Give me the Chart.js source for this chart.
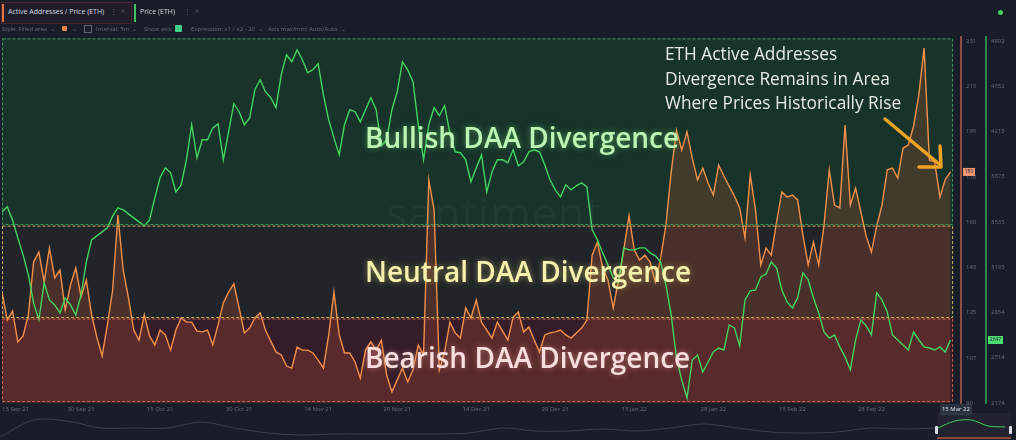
<!DOCTYPE html>
<html>
<head>
<meta charset="utf-8">
<script src="https://cdn.jsdelivr.net/npm/chart.js@4.4.1/dist/chart.umd.min.js"></script>
<style>
  html, body { margin: 0; padding: 0; background: #191d29; width: 1016px; height: 440px; overflow: hidden; font-family: "Open Sans", sans-serif; }
  #wrap { position: relative; width: 1016px; height: 440px; }
  canvas { position: absolute; left: 0; }
  #main { top: 0; }
  #nav { top: 412px; }
  .abs { position: absolute; white-space: nowrap; pointer-events: none; }
  .tab { position: absolute; top: 2px; height: 20px; font-size: 7px; color: #d5d9e3; line-height: 20px; }
  .tool { position: absolute; top: 24px; font-size: 6px; color: #646c80; line-height: 10px; white-space: nowrap; }
  .zone { position: absolute; left: 365px; font-size: 28px; font-weight: 600; line-height: 28px; white-space: nowrap; }
</style>
</head>
<body>
<div id="wrap">
  <canvas id="main" width="1016" height="440"></canvas>
  <canvas id="nav" width="1016" height="28"></canvas>

  <!-- tabs -->
  <div class="tab" style="left:1px;width:129px;border:1px solid #4a2530;background:#1e1d29;"></div>
  <div class="abs" style="left:2px;top:4px;width:2px;height:18px;background:#e8743c;"></div>
  <div class="tab" style="left:8px;">Active Addresses / Price (ETH)</div>
  <div class="tab" style="left:110px;color:#5d6478;">⋮</div>
  <div class="tab" style="left:121px;color:#5d6478;">×</div>
  <div class="abs" style="left:134px;top:4px;width:2px;height:18px;background:#3fc65c;"></div>
  <div class="tab" style="left:140px;">Price (ETH)</div>
  <div class="tab" style="left:184px;color:#5d6478;">⋮</div>
  <div class="tab" style="left:195px;color:#5d6478;">×</div>
  <div class="abs" style="left:998px;top:10px;width:5px;height:5px;border-radius:50%;background:#3fd35c;"></div>

  <!-- toolbar -->
  <div class="tool" style="left:2px;">Style: Filled area &nbsp;⌄</div>
  <div class="abs" style="left:62px;top:26px;width:5px;height:5px;background:#f0864a;border-radius:1px;"></div>
  <div class="tool" style="left:72px;">⌄</div>
  <div class="abs" style="left:84px;top:25px;width:6px;height:6px;border:1px solid #5d6478;"></div>
  <div class="tool" style="left:96px;">Interval: 5m &nbsp;⌄</div>
  <div class="tool" style="left:144px;">Show axis</div>
  <div class="abs" style="left:175px;top:25px;width:7px;height:7px;background:#3fcf8a;border-radius:1px;"></div>
  <div class="tool" style="left:191px;">Expression: x1 / x2 - 20 &nbsp;⌄</div>
  <div class="tool" style="left:268px;">Axis max/min: Auto/Auto &nbsp;⌄</div>

  <!-- watermark -->
  <div class="abs" style="left:386px;top:182px;font-size:44px;color:rgba(255,255,255,0.035);letter-spacing:1px;">santiment</div>

  <!-- zone captions -->
  <div class="zone" style="top:123px;color:#bdf5b4;text-shadow:0 0 6px rgba(110,220,110,0.55);">Bullish DAA Divergence</div>
  <div class="zone" style="top:257px;color:#f6f2ae;text-shadow:0 0 6px rgba(235,225,120,0.5);">Neutral DAA Divergence</div>
  <div class="zone" style="top:343px;color:#f9dede;text-shadow:0 0 6px rgba(255,170,170,0.5);">Bearish DAA Divergence</div>

  <!-- annotation -->
  <div class="abs" style="left:665px;top:42px;font-size:17.3px;line-height:24.5px;color:#e6ede4;">ETH Active Addresses<br>Divergence Remains in Area<br>Where Prices Historically Rise</div>
  <svg class="abs" style="left:0;top:0;" width="1016" height="440">
    <line x1="885" y1="119" x2="939" y2="164" stroke="#efa324" stroke-width="3.5" stroke-linecap="round"/>
    <polyline points="940,146 941,167 919,167" fill="none" stroke="#efa324" stroke-width="3.5" stroke-linecap="round" stroke-linejoin="round"/>
  </svg>

  <!-- navigator window -->
  <div class="abs" style="left:937px;top:413px;width:74px;height:27px;background:rgba(255,255,255,0.035);"></div>
  <div class="abs" style="left:937px;top:437px;width:74px;height:2px;background:#8a4a3a;"></div>
  <div class="abs" style="left:935px;top:426px;width:3px;height:8px;background:#d8dce6;border-radius:1px;"></div>
  <div class="abs" style="left:1009px;top:426px;width:3px;height:8px;background:#d8dce6;border-radius:1px;"></div>
</div>

<script>
// x axis: days since 15 Sep 21, one reading per day
const xTickDays = [0, 15, 30, 45, 60, 75, 90, 105, 120, 135, 150, 165, 183.7];
const xTickLabels = ['15 Sep 21', '30 Sep 21', '15 Oct 21', '30 Oct 21', '14 Nov 21', '29 Nov 21',
  '14 Dec 21', '29 Dec 21', '13 Jan 22', '28 Jan 22', '13 Feb 22', '28 Feb 22', '15 Mar 22'];

// right axes
const daaTicks = [90, 107.6, 125.3, 142.9, 160.5, 178.1, 195.8, 213.4, 231];
const daaTickLabels = ['90', '107', '125', '143', '160', '178', '195', '213', '231'];
const priceTicks = [2174, 2514, 2854, 3193, 3533, 3873, 4213, 4552, 4892];
const priceTickLabels = ['2174', '2514', '2854', '3193', '3533', '3873', '4213', '4552', '4892'];

// Price (ETH)
const ethPrice = [
  3609, 3647, 3549, 3414, 3286, 3136, 2925, 2798, 3076, 2948,
  2910, 2850, 2963, 2910, 2835, 2986, 3233, 3399, 3429, 3459,
  3489, 3579, 3639, 3624, 3594, 3564, 3534, 3504, 3549, 3714,
  3865, 3940, 3902, 3759, 3812, 4000, 4263, 4015, 4150, 4150,
  4240, 4270, 4000, 4210, 4421, 4361, 4263, 4315, 4526, 4601,
  4511, 4466, 4391, 4639, 4789, 4736, 4826, 4751, 4654, 4676,
  4721, 4488, 4300, 4165, 4037, 4263, 4376, 4361, 4285, 4376,
  4466, 4376, 4105, 4150, 4376, 4511, 4736, 4676, 4586, 4263,
  4000, 4263, 4391, 4331, 4406, 4203, 4060, 4053, 4000, 3835,
  3940, 4037, 3759, 3910, 4000, 4000, 3977, 4075, 3955, 3985,
  4060, 4075, 4060, 3962, 3850, 3774, 3722, 3812, 3774, 3805,
  3827, 3797, 3474, 3399, 3301, 3211, 3113, 3076, 3339, 3324,
  3324, 3339, 3339, 3301, 3279, 3233, 3061, 2835, 2512, 2347,
  2212, 2497, 2535, 2407, 2482, 2557, 2587, 2572, 2760, 2738,
  2602, 2948, 3016, 3023, 3121, 3143, 3233, 3188, 3023, 2933,
  2888, 2963, 3151, 3098, 2963, 2850, 2707, 2662, 2685, 2595,
  2520, 2422, 2647, 2798, 2753, 2685, 3001, 2948, 2858, 2685,
  2647, 2610, 2572, 2707, 2647, 2595, 2587, 2572, 2595, 2557, 2647
];

// Active Addresses / Price expression (x1 / x2 - 20)
const daaDivergence = [
  133.2, 122.3, 125.8, 113.8, 116.1, 124.3, 144.9, 148.8, 137.1, 150.4,
  138.7, 141.8, 126.2, 136.0, 142.6, 131.3, 137.9, 124.3, 115.7, 108.3,
  120.4, 134.0, 163.2, 141.8, 130.9, 118.4, 114.5, 124.3, 116.1, 112.6,
  118.4, 116.5, 110.6, 118.4, 123.1, 121.5, 121.5, 118.0, 117.7, 118.4,
  112.6, 120.4, 129.0, 133.2, 136.4, 127.0, 117.3, 119.2, 123.1, 125.1,
  118.4, 114.1, 109.9, 108.7, 104.4, 103.6, 111.8, 110.6, 110.6, 109.5,
  106.7, 103.6, 116.5, 133.2, 116.5, 109.5, 109.5, 106.0, 99.7, 110.6,
  113.8, 110.6, 114.5, 100.9, 94.3, 99.0, 103.6, 98.2, 102.9, 112.6,
  108.7, 176.9, 165.2, 102.9, 109.9, 121.5, 117.3, 115.3, 127.0, 123.1,
  130.1, 121.5, 118.4, 115.3, 121.5, 118.0, 114.5, 123.5, 125.4, 117.7,
  119.6, 114.5, 109.9, 116.5, 117.3, 117.7, 118.4, 116.5, 115.3, 117.3,
  119.2, 122.3, 147.6, 152.7, 142.6, 137.9, 127.0, 137.9, 149.6, 163.0,
  149.6, 145.7, 147.6, 144.9, 137.1, 146.5, 159.3, 180.0, 196.3, 188.5,
  195.6, 185.4, 176.9, 181.5, 175.7, 171.0, 182.7, 178.4, 174.5, 170.6,
  166.0, 154.3, 178.8, 165.2, 143.8, 150.4, 147.6, 160.5, 172.2, 170.2,
  171.0, 169.1, 155.4, 143.8, 152.7, 143.8, 159.3, 180.8, 167.1, 166.0,
  198.3, 167.1, 173.7, 164.4, 155.0, 148.8, 158.9, 167.1, 180.8, 181.5,
  177.6, 189.3, 190.5, 197.9, 210.0, 228.3, 184.6, 183.9, 170.2, 176.9, 180.0
];

// divergence zones (in expression units), bottom to top
const zoneEdges = [90.4, 123.1, 159.3, 232.2];
const zoneFills = ['#341d29', '#212428', '#17332a'];
const zoneStrokes = ['#cf6449', '#c9b45a', '#3d9a5c'];
const zoneStartDay = 0;
const zoneEndDay = 180.5;

// navigator overview (relative height)
const navHistory = [3, 20, 19, 12, 12, 12, 18, 12, 7, 5, 6, 6, 6, 6, 7, 12, 9, 9, 11, 9, 12, 16, 12, 8, 7, 8, 12, 11, 12];
const navWindow = [12, 19, 20, 14, 13];

// ---- chart ----
const zonePlugin = {
  id: 'zones',
  beforeDatasetsDraw(chart) {
    const ctx = chart.ctx;
    const xs = chart.scales.x, ys = chart.scales.yDaa;
    const l = xs.getPixelForValue(zoneStartDay), r = xs.getPixelForValue(zoneEndDay);
    ctx.save();
    for (let i = 0; i < zoneEdges.length - 1; i++) {
      const top = ys.getPixelForValue(zoneEdges[i + 1]);
      const bot = ys.getPixelForValue(zoneEdges[i]);
      ctx.fillStyle = zoneFills[i];
      ctx.fillRect(l, top, r - l, bot - top);
    }
    ctx.restore();
  },
  afterDatasetsDraw(chart) {
    const ctx = chart.ctx;
    const xs = chart.scales.x, ys = chart.scales.yDaa;
    const l = xs.getPixelForValue(zoneStartDay), r = xs.getPixelForValue(zoneEndDay);
    ctx.save();
    ctx.setLineDash([3, 2]);
    ctx.lineWidth = 1;
    for (let i = 0; i < zoneEdges.length - 1; i++) {
      const top = ys.getPixelForValue(zoneEdges[i + 1]);
      const bot = ys.getPixelForValue(zoneEdges[i]);
      ctx.strokeStyle = zoneStrokes[i];
      ctx.strokeRect(l + 0.5, top + 1, r - l - 1, bot - top - 1.5);
    }
    ctx.restore();
  }
};

// last-value badges on the right axes
const badgePlugin = {
  id: 'badges',
  afterDraw(chart) {
    const ctx = chart.ctx;
    const items = [
      { scale: chart.scales.yDaa, v: daaDivergence[daaDivergence.length - 1], bg: '#f29574', w: 12 },
      { scale: chart.scales.yPrice, v: ethPrice[ethPrice.length - 1], bg: '#4fdd72', w: 15 }
    ];
    ctx.save();
    items.forEach(it => {
      const y = it.scale.getPixelForValue(it.v);
      ctx.fillStyle = it.bg;
      ctx.fillRect(it.scale.left + 2, y - 4, it.w, 8);
      ctx.fillStyle = '#1b1f2b';
      ctx.font = '5px "Open Sans"';
      ctx.textAlign = 'center';
      ctx.textBaseline = 'middle';
      ctx.fillText(Math.round(it.v), it.scale.left + 2 + it.w / 2, y);
    });
    ctx.restore();
  }
};

const tickFont = { family: '"Open Sans", sans-serif', size: 6 };

new Chart(document.getElementById('main'), {
  type: 'line',
  data: {
    datasets: [
      {
        label: 'Price (ETH)',
        data: ethPrice.map((v, i) => ({ x: i, y: v })),
        yAxisID: 'yPrice',
        borderColor: '#43d55f',
        borderWidth: 1.4,
        pointRadius: 0,
        tension: 0,
        fill: false
      },
      {
        label: 'Active Addresses / Price (ETH)',
        data: daaDivergence.map((v, i) => ({ x: i, y: v })),
        yAxisID: 'yDaa',
        borderColor: '#f3904a',
        backgroundColor: 'rgba(220,90,50,0.22)',
        borderWidth: 1.4,
        pointRadius: 0,
        tension: 0,
        fill: 'start'
      }
    ]
  },
  options: {
    responsive: false,
    animation: false,
    layout: { padding: { top: 37, left: 2, right: 0, bottom: 0 } },
    plugins: { legend: { display: false }, tooltip: { enabled: false } },
    scales: {
      x: {
        type: 'linear',
        min: 0,
        max: 182,
        grid: { display: false, drawTicks: false },
        border: { display: false },
        afterBuildTicks: s => { s.ticks = xTickDays.map(v => ({ value: v })); },
        afterFit: s => { s.height = 37; s.paddingLeft = 0; s.paddingRight = 0; },
        ticks: {
          autoSkip: false,
          maxRotation: 0,
          align: 'inner',
          padding: 3,
          font: tickFont,
          color: ctx => ctx.index === xTickDays.length - 1 ? '#dfe3ec' : '#646c80',
          showLabelBackdrop: ctx => ctx.index === xTickDays.length - 1,
          backdropColor: '#2a3140',
          backdropPadding: 2,
          callback: (v, i) => xTickLabels[i]
        }
      },
      yDaa: {
        position: 'right',
        weight: 0,
        min: 90,
        max: 232.56,
        grid: { display: false, drawTicks: false },
        border: { display: true, color: '#8e4f40', width: 2 },
        afterBuildTicks: s => { s.ticks = daaTicks.map(v => ({ value: v })); },
        afterFit: s => { s.width = 25; },
        ticks: { font: tickFont, color: '#646c80', padding: 5, callback: (v, i) => daaTickLabels[i] }
      },
      yPrice: {
        position: 'right',
        weight: 1,
        min: 2174,
        max: 4922,
        grid: { display: false, drawTicks: false },
        border: { display: true, color: '#2b8a4c', width: 2 },
        afterBuildTicks: s => { s.ticks = priceTicks.map(v => ({ value: v })); },
        afterFit: s => { s.width = 30; },
        ticks: { font: tickFont, color: '#646c80', padding: 5, callback: (v, i) => priceTickLabels[i] }
      }
    }
  },
  plugins: [zonePlugin, badgePlugin]
});

// navigator strip
new Chart(document.getElementById('nav'), {
  type: 'line',
  data: {
    datasets: [
      {
        data: navHistory.map((v, i) => ({ x: i, y: v })),
        borderColor: 'rgba(120,130,150,0.35)',
        borderWidth: 1,
        pointRadius: 0,
        tension: 0.3
      },
      {
        data: navWindow.map((v, i) => ({ x: 28 + i * 0.5, y: v })),
        borderColor: '#3fc65c',
        borderWidth: 1,
        pointRadius: 0,
        tension: 0.3
      }
    ]
  },
  options: {
    responsive: false,
    animation: false,
    layout: { padding: 0 },
    plugins: { legend: { display: false }, tooltip: { enabled: false } },
    scales: {
      x: { type: 'linear', display: false, min: 0, max: 30.33 },
      y: { display: false, min: 0, max: 28 }
    }
  }
});
</script>
</body>
</html>
